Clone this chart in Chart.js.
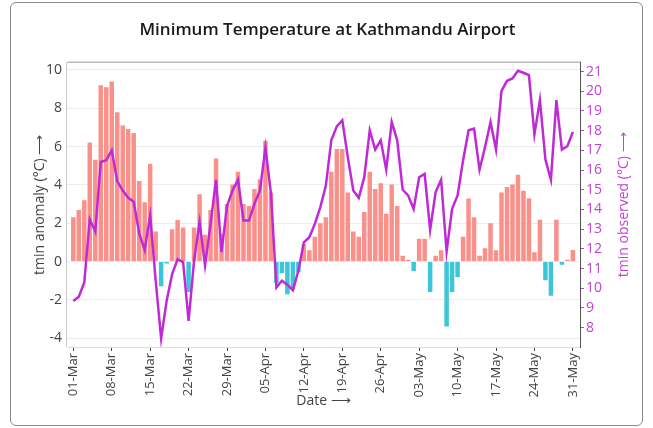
<!DOCTYPE html>
<html>
<head>
<meta charset="utf-8">
<script src="https://cdn.jsdelivr.net/npm/chart.js@4.4.0/dist/chart.umd.min.js"></script>
<style>
  html, body { margin: 0; padding: 0; background: #fff; }
  #wrap { position: relative; width: 653px; height: 428px; overflow: hidden; }
  #frame { position: absolute; left: 10px; top: 2px; width: 631px; height: 422px;
           border: 1px solid #8a8a8a; border-radius: 6px; pointer-events: none; }
  canvas { position: absolute; left: 0; top: 0; }
</style>
</head>
<body>
<div id="wrap">
  <canvas id="myChart" width="653" height="428"></canvas>
  <div id="frame"></div>
</div>
<script>
// tick labels on the date axis (day index from 01-Mar)
var tick_days = [0, 7, 14, 21, 28, 35, 42, 49, 56, 63, 70, 77, 84, 91];
var tick_labels = ['01-Mar', '08-Mar', '15-Mar', '22-Mar', '29-Mar', '05-Apr', '12-Apr',
                   '19-Apr', '26-Apr', '03-May', '10-May', '17-May', '24-May', '31-May'];

// one value per day, 01-Mar .. 31-May
var tmin_anomaly = [
  2.31, 2.69, 3.2, 6.22, 5.31, 9.2, 9.1, 9.4, 7.8, 7.1,
  6.92, 6.71, 4.2, 3.09, 5.1, 1.57, -1.29, -0.1, 1.68, 2.17,
  1.78, -1.59, 1.78, 3.51, 1.4, 2.69, 5.38, 1.43, 3.0, 4.02,
  4.69, 3.0, 2.9, 3.79, 4.3, 6.31, 3.6, -1.12, -0.6, -1.71,
  -1.47, -0.56, 0.91, 0.59, 1.29, 2.0, 2.31, 4.69, 5.87, 5.87,
  3.6, 1.57, 1.29, 2.59, 4.69, 3.79, 4.09, 2.5, 4.02, 2.9,
  0.3, 0.1, -0.49, 1.19, 1.19, -1.59, 0.3, 0.59, -3.39, -1.59,
  -0.8, 1.29, 3.29, 2.31, 0.3, 0.7, 2.0, 0.59, 3.61, 3.89,
  4.02, 4.53, 3.7, 3.3, 0.49, 2.18, -0.98, -1.78, 2.18, -0.17,
  0.1, 0.6
];
var tmin_observed = [
  9.36, 9.57, 10.3, 13.5, 12.88, 16.41, 16.5, 17.0, 15.44, 14.96,
  14.59, 14.39, 12.79, 11.94, 13.7, 10.4, 7.45, 9.36, 10.72, 11.47,
  11.33, 8.34, 11.4, 13.37, 11.16, 13.27, 15.51, 11.84, 14.18, 14.96,
  15.51, 13.44, 13.44, 14.29, 14.97, 17.14, 14.8, 10.04, 10.38, 10.18,
  9.9, 10.89, 12.33, 12.59, 13.27, 14.12, 15.2, 17.51, 18.22, 18.53,
  16.66, 14.96, 14.59, 15.64, 18.02, 17.04, 17.51, 16.02, 18.44, 17.51,
  15.0, 14.71, 14.03, 15.64, 15.81, 12.96, 14.88, 15.51, 11.87, 14.03,
  14.71, 16.49, 18.02, 18.1, 16.02, 17.17, 18.44, 17.04, 20.02, 20.53,
  20.65, 21.04, 20.94, 20.82, 17.82, 19.55, 16.53, 15.51, 19.55, 17.04,
  17.21, 17.94
];

var purple = '#c02ad6';
var purple_text = '#c43fd8';
var axis_grey = '#444';

Chart.defaults.font.family = "'Open Sans', 'Noto Sans', sans-serif";

var framePlugin = {
  id: 'frame_box',
  afterDatasetsDraw: function(chart) {
    var c = chart.ctx, a = chart.chartArea;
    c.save();
    c.lineWidth = 1;
    c.strokeStyle = '#dcdcdc';
    c.beginPath(); c.moveTo(a.left, a.bottom + 0.5); c.lineTo(a.right, a.bottom + 0.5); c.stroke();
    c.strokeStyle = '#c8c8c8';
    c.beginPath(); c.moveTo(a.left - 0.5, a.top); c.lineTo(a.left - 0.5, a.bottom); c.stroke();
    c.strokeStyle = '#9a9a9a';
    c.beginPath(); c.moveTo(a.left, a.top - 0.5); c.lineTo(a.right, a.top - 0.5); c.stroke();
    c.strokeStyle = '#555';
    c.beginPath(); c.moveTo(a.right + 0.5, a.top - 1); c.lineTo(a.right + 0.5, a.bottom + 1); c.stroke();
    // right axis title, reading bottom to top
    c.translate(624, (a.top + a.bottom) / 2);
    c.rotate(-Math.PI / 2);
    c.fillStyle = purple_text;
    c.font = "14px 'Open Sans', 'Noto Sans', sans-serif";
    c.textAlign = 'center';
    c.textBaseline = 'middle';
    c.fillText('tmin observed (°C) ⟶', 0, 0);
    c.restore();
  }
};

var ctx = document.getElementById('myChart');
var chart = new Chart(ctx, {
  type: 'bar',
  data: {
    datasets: [{
      type: 'line',
      label: 'tmin observed',
      data: tmin_observed.map(function(v, i) { return {x: i, y: v}; }),
      yAxisID: 'y1',
      borderColor: purple,
      borderWidth: 2.5,
      pointRadius: 0,
      tension: 0,
      order: 0
    }, {
      type: 'bar',
      label: 'tmin anomaly',
      data: tmin_anomaly.map(function(v, i) { return {x: i, y: v}; }),
      yAxisID: 'y',
      backgroundColor: function(c) { return c.raw && c.raw.y < 0 ? '#3dc5d9' : '#f9908a'; },
      borderWidth: 0,
      barPercentage: 1,
      categoryPercentage: 0.82,
      order: 1
    }]
  },
  options: {
    responsive: false,
    animation: false,
    devicePixelRatio: 1,
    layout: { padding: { left: 12, right: 10, top: 0, bottom: 0 } },
    plugins: {
      legend: { display: false },
      tooltip: { enabled: false },
      title: {
        display: true,
        text: 'Minimum Temperature at Kathmandu Airport',
        color: '#1a1a1a',
        font: { size: 17, weight: '600' },
        padding: { top: 20, bottom: 22.3 }
      }
    },
    scales: {
      x: {
        type: 'linear',
        offset: false,
        min: -1.15,
        max: 92.3,
        afterFit: function(s) { s.height = 81; },
        grid: { drawOnChartArea: false, offset: false, color: axis_grey, tickLength: 4 },
        border: { display: false },
        ticks: {
          stepSize: 7, includeBounds: false, autoSkip: false,
          minRotation: 90, maxRotation: 90, padding: 2,
          color: axis_grey, font: { size: 13 },
          callback: function(v) { var k = tick_days.indexOf(v); return k < 0 ? '' : tick_labels[k]; }
        },
        title: {
          display: true, text: 'Date ⟶', color: axis_grey,
          font: { size: 14 }, padding: { top: 0, bottom: 18.6 }
        }
      },
      y: {
        position: 'left',
        min: -4.46,
        max: 10.38,
        afterFit: function(s) { s.width = 55; },
        grid: { color: '#ececec', drawTicks: false },
        border: { display: false },
        ticks: { stepSize: 2, includeBounds: false, padding: 5, color: axis_grey, font: { size: 14 } },
        title: {
          display: true, text: 'tmin anomaly (°C) ⟶', color: axis_grey,
          font: { size: 14 }, padding: { top: 19.6, bottom: 0 }
        }
      },
      y1: {
        position: 'right',
        min: 7.02,
        max: 21.45,
        afterFit: function(s) { s.width = 63; },
        grid: { drawOnChartArea: false, color: purple_text, tickLength: 4 },
        border: { display: false },
        ticks: { stepSize: 1, includeBounds: false, padding: 2, color: purple_text, font: { size: 14 } }
      }
    }
  },
  plugins: [framePlugin]
});
</script>
</body>
</html>
